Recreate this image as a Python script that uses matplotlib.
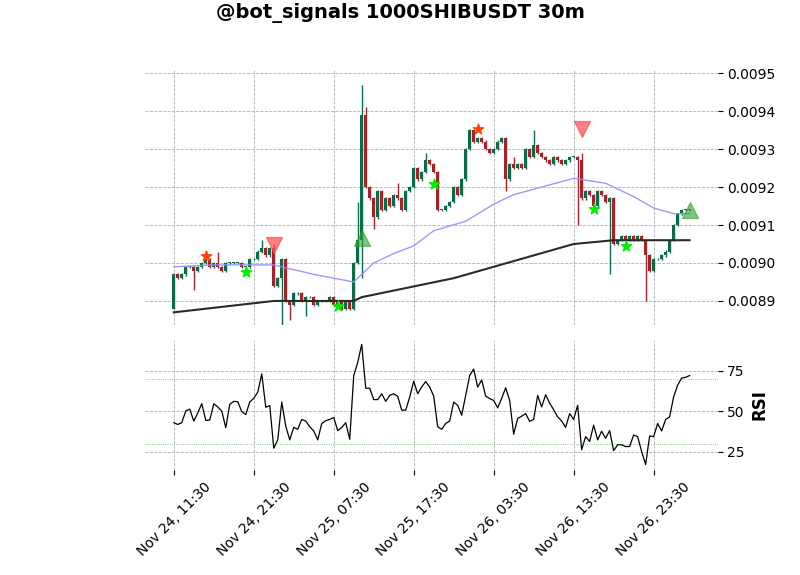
import matplotlib
matplotlib.use("Agg")
import matplotlib.pyplot as plt
import numpy as np

# closes in units of 1e-5
closes = [897, 896, 897, 899, 899, 898, 899, 900, 901, 899,
          900, 899, 898, 900, 900, 900, 900, 899, 899, 901,
          901, 903, 904, 902, 904, 894, 896, 901, 890, 889,
          892, 892, 890, 891, 891, 889, 890, 890, 890, 891,
          889, 890, 888, 890, 888, 900, 906, 939, 920, 917,
          912, 919, 914, 917, 915, 918, 917, 914, 919, 920,
          925, 922, 924, 927, 926, 924, 914, 914, 915, 916,
          920, 918, 922, 930, 935, 932, 933, 932, 930, 929,
          930, 932, 933, 922, 926, 925, 926, 925, 930, 928,
          931, 929, 928, 927, 926, 928, 927, 926, 927, 928,
          928, 927, 917, 919, 918, 915, 919, 918, 916, 917,
          905, 906, 907, 906, 907, 906, 907, 906, 902, 898,
          901, 901, 902, 903, 906, 910, 913, 914, 914, 914]
opens = [888] + closes[:-1]
# notable wicks
highs_override = {47: 947, 48: 941, 46: 916, 25: 905, 102: 929, 75: 935, 90: 935, 56: 921,
                  11: 903, 22: 906, 63: 929, 85: 928}
lows_override = {27: 883, 47: 896, 29: 885, 118: 890, 109: 897, 101: 910, 0: 888,
                 5: 893, 50: 909, 83: 919, 33: 886}

rsi = [43.0, 41.9, 43.0, 50.3, 51.3, 44.0, 49, 54.7, 44.4, 44.6,
       54.7, 52.7, 50.1, 39.9, 54.3, 56.1, 55.9, 49.8, 48.0, 55.7,
       58, 61.8, 73.0, 52.5, 53.5, 27.3, 32.4, 55.7, 40.9, 32.4,
       40.1, 38.9, 45.0, 44.0, 40.5, 37.9, 32.4, 42.5, 44.2, 45.0,
       46.2, 38.1, 40, 43.0, 32.8, 72.0, 80.1, 91.2, 64.2, 64.2,
       57.2, 57.2, 60.8, 56.1, 59.8, 60.8, 59.2, 50.7, 50.7, 58.8,
       68.5, 60.8, 65, 68.3, 64.9, 59.4, 40.5, 38.9, 42.5, 44.0,
       55.7, 53.7, 47.6, 59.8, 72.0, 76.0, 64.9, 69.3, 59.4, 57.8,
       56.7, 52.1, 58, 64.5, 56.7, 35.9, 45.6, 47, 48.6, 43.8,
       45.0, 59.8, 52.7, 60.2, 55, 51, 46.6, 44.0, 40.1, 48.6,
       45.0, 53.7, 26.3, 34.4, 31.4, 41.5, 32.4, 37.7, 33.4, 38.1,
       25.7, 29.4, 29.4, 28.3, 28.3, 35.4, 34.4, 25.3, 17.2, 34.8,
       34.4, 42.5, 37.9, 45.0, 46.6, 58.8, 66, 70.5, 70.9, 72.0]

ema_fast_idx = [0, 10, 25, 35, 45, 50, 55, 60, 65, 73, 80, 85, 92, 100, 108, 115, 120, 125, 129]
ema_fast_val = [899, 899.5, 899.5, 897, 895, 900, 902.5, 904.5, 908.5, 911, 915.5, 918, 920, 922.3, 921, 917.5, 914.5, 913, 913]
ema_slow_idx = [0, 25, 45, 47, 70, 100, 110, 129]
ema_slow_val = [887, 890, 890, 891, 896, 905, 906, 906]

sell_idx, sell_val = [25, 102], [904.7, 935.3]
buy_idx, buy_val = [47, 129], [906.6, 914.0]
star_red_idx, star_red_val = [8, 76], [901.8, 935.3]
star_green_idx = [18, 41, 65, 105, 113]
star_green_val = [897.6, 888.7, 920.8, 914.2, 904.5]

tick_idx = [0, 20, 40, 60, 80, 100, 120]
tick_labels = ["Nov 24, 11:30", "Nov 24, 21:30", "Nov 25, 07:30", "Nov 25, 17:30",
               "Nov 26, 03:30", "Nov 26, 13:30", "Nov 26, 23:30"]

s = 1e-5
x = np.arange(len(closes))
o = np.array(opens) * s
c = np.array(closes) * s
hi = np.maximum(o, c) + 0.000003
lo = np.minimum(o, c) - 0.000003
for k, v in highs_override.items():
    hi[k] = v * s
for k, v in lows_override.items():
    lo[k] = v * s

green, red = "#0a6b47", "#a3222b"
fig = plt.figure(figsize=(8, 5.75), dpi=100)
ax = fig.add_axes([0.181, 0.435, 0.716, 0.443])
ax2 = fig.add_axes([0.181, 0.183, 0.716, 0.226], sharex=ax)

for a in (ax, ax2):
    a.grid(True, linestyle="--", color="#b0b0b0", linewidth=0.6)
    for sp in a.spines.values():
        sp.set_visible(False)
    a.yaxis.tick_right()
    a.set_axisbelow(True)

cols = [green if cc >= oo else red for oo, cc in zip(o, c)]
ax.vlines(x, lo, hi, colors=cols, linewidth=1)
ax.bar(x, np.maximum(np.abs(c - o), 0.0000015), bottom=np.minimum(o, c), width=0.7, color=cols)

ax.plot(ema_fast_idx, np.array(ema_fast_val) * s, color="#8f8fff", linewidth=1, alpha=0.9)
ax.plot(ema_slow_idx, np.array(ema_slow_val) * s, color="#2b2b2b", linewidth=1.5)

ax.scatter(sell_idx, np.array(sell_val) * s, marker="v", s=130, color="#ff4d4d", alpha=0.7, zorder=5)
ax.scatter(buy_idx, np.array(buy_val) * s, marker="^", s=130, color="#2ea02e", alpha=0.6, zorder=5)
ax.scatter(star_red_idx, np.array(star_red_val) * s, marker="*", s=60, color="#ff4500", zorder=5)
ax.scatter(star_green_idx, np.array(star_green_val) * s, marker="*", s=60, color="#00ee00", zorder=5)

ax.set_ylim(0.008837, 0.009508)
ax.set_yticks([0.0089, 0.0090, 0.0091, 0.0092, 0.0093, 0.0094, 0.0095])
ax.yaxis.set_major_formatter(matplotlib.ticker.FormatStrFormatter("%.4f"))
ax.tick_params(axis="x", labelbottom=False, length=0)
ax.set_xlim(-7.25, 136)

ax2.plot(np.arange(len(rsi)), rsi, color="black", linewidth=0.9)
ax2.axhline(70, color="red", linestyle=":", linewidth=0.6, alpha=0.6)
ax2.axhline(30, color="green", linestyle=":", linewidth=0.6, alpha=0.6)
ax2.set_ylim(14, 94)
ax2.set_yticks([25, 50, 75])
ax2.yaxis.set_label_position("right")
ax2.set_ylabel("RSI", fontsize=12, fontweight="bold")
ax2.set_xticks(tick_idx)
ax2.set_xticklabels(tick_labels, rotation=45, ha="center")

fig.suptitle("@bot_signals 1000SHIBUSDT 30m", fontsize=14, fontweight="bold", y=0.995)
fig.savefig("out.png", dpi=100)
